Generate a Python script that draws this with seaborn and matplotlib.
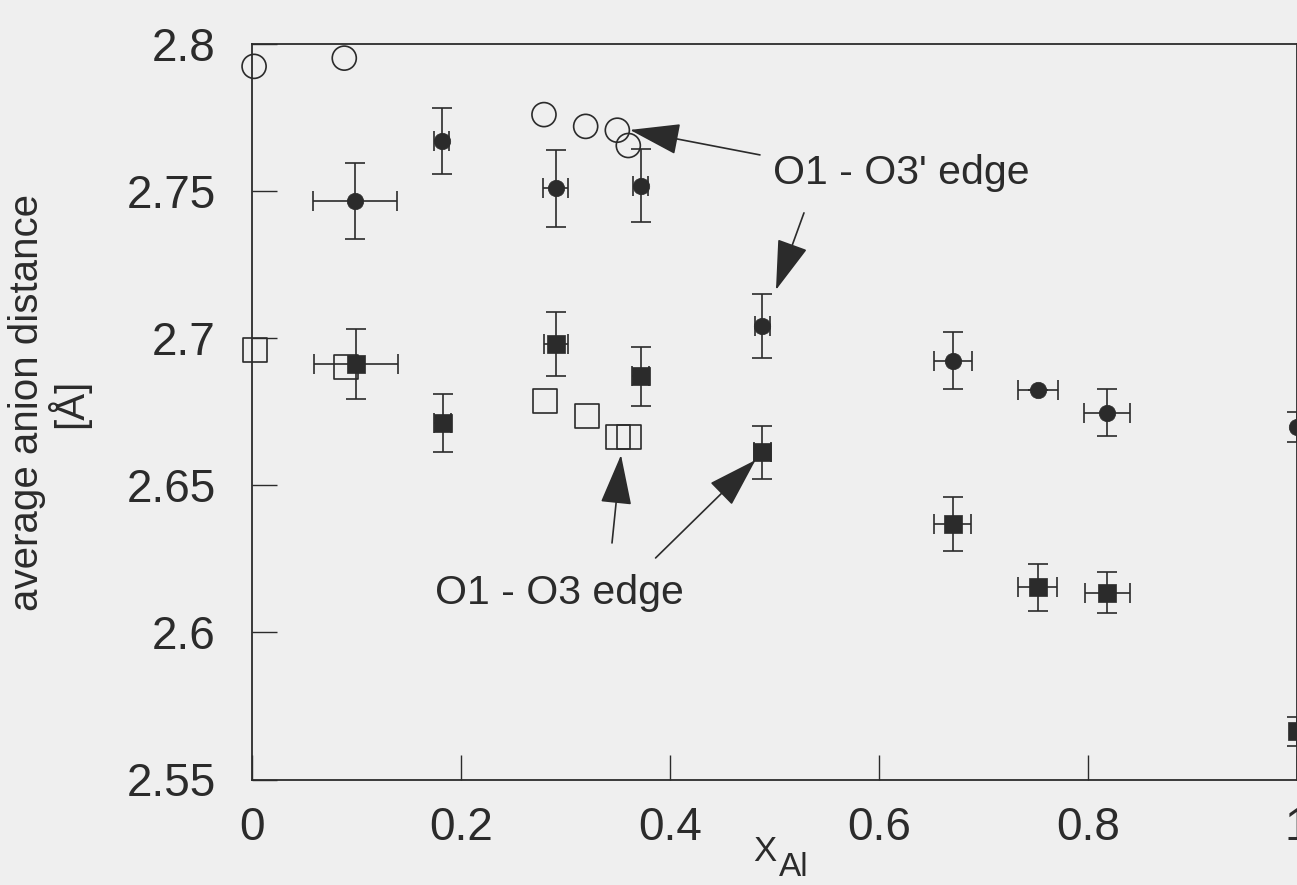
import numpy as np
import pandas as pd
import seaborn as sns
import matplotlib.pyplot as plt

# O1 - O3' edge (filled circles) with uncertainties
circ_x = [0.0986, 0.1815, 0.2906, 0.3720, 0.4883, 0.6711, 0.7522, 0.8182, 1.0]
circ_y = [2.7467, 2.7670, 2.7509, 2.7519, 2.7040, 2.6924, 2.6824, 2.6746, 2.6698]
circ_xerr = [0.040, 0.007, 0.012, 0.007, 0.007, 0.018, 0.019, 0.022, 0.0]
circ_yerr = [0.0130, 0.0113, 0.0132, 0.0123, 0.0109, 0.0098, 0.0, 0.0080, 0.0050]

# O1 - O3 edge (filled squares) with uncertainties
sq_x = [0.0995, 0.1825, 0.2906, 0.3720, 0.4883, 0.6705, 0.7518, 0.8185, 1.0]
sq_y = [2.6913, 2.6711, 2.6980, 2.6870, 2.6613, 2.6367, 2.6153, 2.6135, 2.5664]
sq_xerr = [0.040, 0.008, 0.0116, 0.008, 0.008, 0.018, 0.0187, 0.0215, 0.0]
sq_yerr = [0.0119, 0.0099, 0.0109, 0.0099, 0.0090, 0.0092, 0.0080, 0.0069, 0.0050]

# literature values (open symbols)
open_circ_x = [0.002, 0.0883, 0.2794, 0.3193, 0.3496, 0.3601]
open_circ_y = [2.7924, 2.7952, 2.7760, 2.7720, 2.7707, 2.7655]
open_sq_x = [0.003, 0.0896, 0.2804, 0.3203, 0.3505, 0.3611]
open_sq_y = [2.6960, 2.6901, 2.6785, 2.6735, 2.6665, 2.6665]

x_ticks = [0, 0.2, 0.4, 0.6, 0.8, 1.0]
x_ticklabels = ["0", "0.2", "0.4", "0.6", "0.8", "1"]
y_ticks = [2.55, 2.6, 2.65, 2.7, 2.75, 2.8]
y_ticklabels = ["2.55", "2.6", "2.65", "2.7", "2.75", "2.8"]

INK = "#2b2b2b"
PAPER = "#efefef"

sns.set_theme(style="ticks")
plt.rcParams["font.family"] = ["Liberation Sans", "DejaVu Sans"]
plt.rcParams["text.color"] = INK
plt.rcParams["axes.labelcolor"] = INK

fig = plt.figure(figsize=(12.97, 8.85), dpi=100, facecolor=PAPER)
ax = fig.add_axes([252 / 1297, 105.5 / 885, 1045 / 1297, 735.5 / 885])
ax.set_facecolor(PAPER)

filled = pd.DataFrame({"x": circ_x + sq_x, "y": circ_y + sq_y,
                       "edge": ["O1-O3'"] * len(circ_x) + ["O1-O3"] * len(sq_x)})
lit = pd.DataFrame({"x": open_circ_x + open_sq_x, "y": open_circ_y + open_sq_y,
                    "edge": ["O1-O3'"] * len(open_circ_x) + ["O1-O3"] * len(open_sq_x)})

# error bars
ebkw = dict(fmt="none", ecolor=INK, elinewidth=1.2, capsize=7, capthick=1.2,
            clip_on=False, zorder=2)
ax.errorbar(circ_x, circ_y, xerr=circ_xerr, yerr=circ_yerr, **ebkw)
ax.errorbar(sq_x, sq_y, xerr=sq_xerr, yerr=sq_yerr, **ebkw)

# open symbols
for edge, mk in [("O1-O3'", "o"), ("O1-O3", "s")]:
    d = lit[lit["edge"] == edge]
    ax.scatter(d["x"], d["y"], s=300, marker=mk, facecolors="none",
               edgecolors=INK, linewidths=1.2, clip_on=False, zorder=3)

# filled symbols
sns.scatterplot(data=filled[filled["edge"] == "O1-O3'"], x="x", y="y", ax=ax,
                marker="o", s=140, color=INK, edgecolor=INK, linewidth=0.5,
                clip_on=False, zorder=4, legend=False)
sns.scatterplot(data=filled[filled["edge"] == "O1-O3"], x="x", y="y", ax=ax,
                marker="s", s=150, color=INK, edgecolor=INK, linewidth=0.5,
                clip_on=False, zorder=4, legend=False)

ax.set_xlim(0, 1)
ax.set_ylim(2.55, 2.8)
ax.set_xticks(x_ticks)
ax.set_xticklabels(x_ticklabels)
ax.set_yticks(y_ticks)
ax.set_yticklabels(y_ticklabels)
ax.tick_params(axis="both", direction="in", length=18, width=1.0, colors=INK,
               labelsize=33, labelcolor=INK)
ax.tick_params(axis="y", pad=26)
ax.tick_params(axis="x", pad=19)
for sp in ax.spines.values():
    sp.set_color(INK)
    sp.set_linewidth(1.3)

ax.set_ylabel("average anion distance\n[Å]", fontsize=29, linespacing=1.0)
ax.yaxis.set_label_coords(-0.155, 0.512)
ax.set_xlabel("X", fontsize=25)
ax.xaxis.set_label_coords(0.491, -0.076)
ax.text(0.5045, -0.0985, "Al", transform=ax.transAxes, fontsize=24,
        ha="left", va="top", color=INK)

arrow = dict(arrowstyle="-|>,head_length=1.6,head_width=0.5", color=INK,
             lw=1.2, shrinkA=0, shrinkB=0, mutation_scale=20)
ax.text(0.4986, 2.7561, "O1 - O3' edge", fontsize=29.5, ha="left", va="center")
ax.annotate("", xy=(0.3617, 2.7708), xytext=(0.4861, 2.7623), arrowprops=arrow,
            annotation_clip=False)
ax.annotate("", xy=(0.5014, 2.7164), xytext=(0.5282, 2.7426), arrowprops=arrow)

ax.text(0.1751, 2.6134, "O1 - O3 edge", fontsize=29.5, ha="left", va="center")
ax.annotate("", xy=(0.3531, 2.6603), xytext=(0.3445, 2.6304), arrowprops=arrow)
ax.annotate("", xy=(0.4819, 2.6586), xytext=(0.3862, 2.6253), arrowprops=arrow)

fig.savefig("out.png", dpi=100, facecolor=PAPER)
